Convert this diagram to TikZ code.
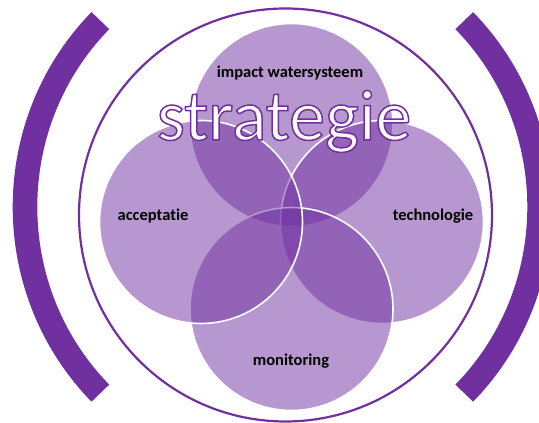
\documentclass[tikz,border=0pt]{standalone}
\usepackage{fontspec}
\setmainfont{Carlito}[Ligatures=NoCommon]
\definecolor{strpurple}{RGB}{112,48,160}
% witte letters met een paarse rand
\newcommand{\outlined}[1]{\special{pdf:literal direct q 2 Tr 1.5 w 0.439 0.188 0.627 RG}#1\special{pdf:literal direct Q}}

\begin{document}
\begin{tikzpicture}[x=1pt,y=1pt]
                \tikzstyle{bubble}=[circle,draw=white,line width=1.6pt,fill=strpurple,fill opacity=0.5,minimum size=203pt,inner sep=0pt]
                \tikzstyle{topic}=[anchor=base,inner sep=0pt,font=\fontsize{16.5}{18}\selectfont\bfseries,text=black]
                \tikzstyle{bracket}=[draw=strpurple,line width=24.6pt]
                \tikzstyle{title}=[anchor=base,inner sep=0pt,font=\fontsize{72}{72}\selectfont,text=white]
                        \useasboundingbox (0,0) rectangle (539,423);

                        % haakjes en ring
                        \coordinate (H) at (282.3,216.1);
                        \draw[bracket] (H) ++(135:257.3 and 263.4) arc[start angle=135,end angle=225,x radius=257.3,y radius=263.4];
                        \draw[bracket] (H) ++(-45:257.3 and 263.4) arc[start angle=-45,end angle=45,x radius=257.3,y radius=263.4];
                        \node[circle,draw=strpurple,line width=2.2pt,minimum size=413pt,inner sep=0pt] (ring) at (285.5,208){};

                        % cirkels: boven, rechts, onder, links
                        \node[bubble] (C-0) at (291.5,298){};
                        \node[bubble] (C-1) at (382,201){};
                        \node[bubble] (C-2) at (291.5,114){};
                        \node[bubble] (C-3) at (201,201){};

                        \node[topic] (T-0) at (290,345.7){impact watersysteem};
                        \node[topic] (T-1) at (433,202.3){technologie};
                        \node[topic] (T-2) at (291,57.3){monitoring};
                        \node[topic] (T-3) at (153,202.3){acceptatie};

                        \node[title] (S) at (284,283){\outlined{strategie}};
            \end{tikzpicture}
\end{document}
